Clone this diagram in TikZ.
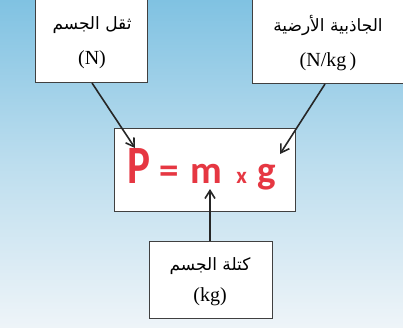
\documentclass[tikz,border=0pt]{standalone}
\usepackage{fontspec}
\usepackage{graphicx}
\setmainfont{Liberation Serif}
\newfontfamily\arabicfont[Script=Arabic]{DejaVu Sans}
\newfontfamily\formfont{Carlito}
\TeXXeTstate=1
\usetikzlibrary{arrows.meta}
\definecolor{bgtop}{RGB}{128,194,226}
\definecolor{bgbot}{RGB}{238,244,248}
\definecolor{formred}{RGB}{230,55,66}
\begin{document}
\begin{tikzpicture}[x=1pt,y=-1pt,
  box/.style={draw=black!75,line width=0.8pt,fill=white},
  ar/.style={font=\arabicfont\fontsize{17}{20}\selectfont},
  unit/.style={font=\fontsize{20}{22}\selectfont},
  conn/.style={draw=black!85,line width=1.6pt,-{Straight Barb[length=8pt,width=10pt]}}]
\useasboundingbox (0,0) rectangle (403,327);
\shade[top color=bgtop,bottom color=bgbot,middle color=bgtop!45!bgbot] (0,0) rectangle (403,327);
% boxes
\draw[box] (35,-2) rectangle (147,82);
\draw[box] (252,-2) rectangle (405,83);
\draw[box] (114,128) rectangle (295,211);
\draw[box] (149,241) rectangle (272,318);
% texts
\node[ar] (t1) at (92,25) {\beginR ثقل الجسم\endR};
\node[unit] (u1) at (92,60) {(N)};
\node[ar] (t2) at (328,25) {\beginR الجاذبية الأرضية\endR};
\node[unit] (u2) at (328,62) {(N/kg\,)};
\node[text=formred,anchor=base west,inner sep=0pt,font=\formfont\bfseries\fontsize{39}{44}\selectfont] (f) at (127,183) {\scalebox{0.8}[1]{\fontsize{54}{56}\selectfont P}\hspace{9pt}=\hspace{12pt}m\hspace{14pt}{\fontsize{23}{24}\selectfont x}\hspace{11pt}g};
\node[ar] (t3) at (210,266) {\beginR كتلة الجسم\endR};
\node[unit] (u3) at (210,297) {(kg)};
% connector anchors
\coordinate (a1s) at (92,83);
\coordinate (a1e) at (135,148);
\coordinate (a2s) at (325,84);
\coordinate (a2e) at (280,154);
\coordinate (a3s) at (210,241);
\coordinate (a3e) at (210,189);
\draw[conn] (a1s) -- (a1e);
\draw[conn] (a2s) -- (a2e);
\draw[conn] (a3s) -- (a3e);
\end{tikzpicture}
\end{document}
